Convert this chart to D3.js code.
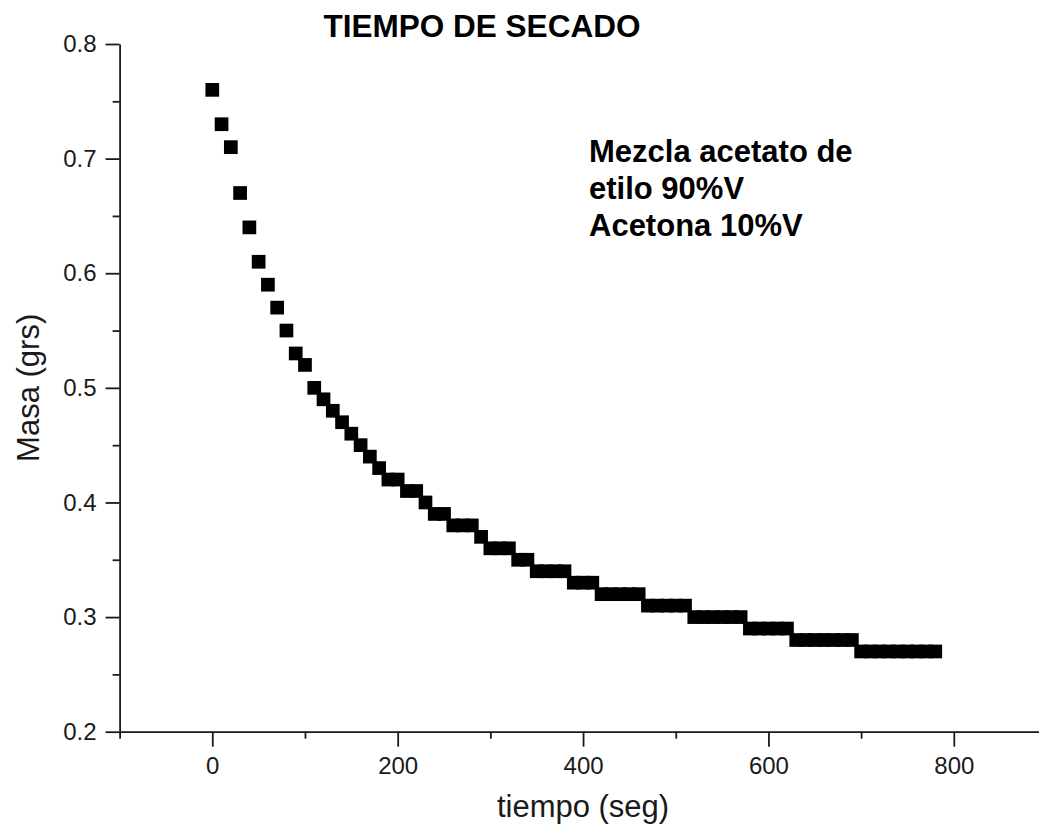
<!DOCTYPE html>
<html>
<head>
<meta charset="utf-8">
<script src="https://cdn.jsdelivr.net/npm/d3@7"></script>
<style>
  body { margin: 0; background: #fff; }
  svg { display: block; }
  text { font-family: "Liberation Sans", Arial, sans-serif; }
</style>
</head>
<body>
<svg id="chart" width="1039" height="831"></svg>
<script>
// Drying run: sample mass (g) against elapsed time (s)
const tiempo = [
  0, 10, 20, 30, 40, 50, 60, 70, 80, 90,
  100, 110, 120, 130, 140, 150, 160, 170, 180, 190,
  200, 210, 220, 230, 240, 250, 260, 270, 280, 290,
  300, 310, 320, 330, 340, 350, 360, 370, 380, 390,
  400, 410, 420, 430, 440, 450, 460, 470, 480, 490,
  500, 510, 520, 530, 540, 550, 560, 570, 580, 590,
  600, 610, 620, 630, 640, 650, 660, 670, 680, 690,
  700, 710, 720, 730, 740, 750, 760, 770, 780
];
const masa = [
  0.76, 0.73, 0.71, 0.67, 0.64, 0.61, 0.59, 0.57, 0.55, 0.53,
  0.52, 0.50, 0.49, 0.48, 0.47, 0.46, 0.45, 0.44, 0.43, 0.42,
  0.42, 0.41, 0.41, 0.40, 0.39, 0.39, 0.38, 0.38, 0.38, 0.37,
  0.36, 0.36, 0.36, 0.35, 0.35, 0.34, 0.34, 0.34, 0.34, 0.33,
  0.33, 0.33, 0.32, 0.32, 0.32, 0.32, 0.32, 0.31, 0.31, 0.31,
  0.31, 0.31, 0.30, 0.30, 0.30, 0.30, 0.30, 0.30, 0.29, 0.29,
  0.29, 0.29, 0.29, 0.28, 0.28, 0.28, 0.28, 0.28, 0.28, 0.28,
  0.27, 0.27, 0.27, 0.27, 0.27, 0.27, 0.27, 0.27, 0.27
];

const xTicksMajor = [0, 200, 400, 600, 800];
const xTicksMinor = [-100, 100, 300, 500, 700];
const yTicksMajor = [0.2, 0.3, 0.4, 0.5, 0.6, 0.7, 0.8];
const yTicksMinor = [0.25, 0.35, 0.45, 0.55, 0.65, 0.75];

const titulo = "TIEMPO DE SECADO";
const nota = ["Mezcla acetato de", "etilo 90%V", "Acetona 10%V"];
const etiquetaX = "tiempo (seg)";
const etiquetaY = "Masa (grs)";

const svg = d3.select("#chart");

const x = d3.scaleLinear().domain([-100, 900]).range([119.6, 1046.5]);
const y = d3.scaleLinear().domain([0.2, 0.8]).range([731.7, 44]);

const axisColor = "#1a1a1a";

// x axis: major ticks with labels, then unlabeled minor ticks
const gx = svg.append("g").attr("transform", `translate(0,${y(0.2)})`);
gx.call(d3.axisBottom(x).tickValues(xTicksMajor).tickSize(15).tickSizeOuter(0)
  .tickPadding(10).tickFormat(d3.format("d")));
const gxm = svg.append("g").attr("transform", `translate(0,${y(0.2)})`);
gxm.call(d3.axisBottom(x).tickValues(xTicksMinor).tickSize(7).tickFormat(""));
gxm.select(".domain").remove();

// y axis
const gy = svg.append("g").attr("transform", `translate(${x(-100)},0)`);
gy.call(d3.axisLeft(y).tickValues(yTicksMajor).tickSize(14).tickSizeOuter(0)
  .tickPadding(9).tickFormat(d3.format(".1f")));
const gym = svg.append("g").attr("transform", `translate(${x(-100)},0)`);
gym.call(d3.axisLeft(y).tickValues(yTicksMinor).tickSize(7).tickFormat(""));
gym.select(".domain").remove();

svg.selectAll(".domain, .tick line")
  .attr("stroke", axisColor).attr("stroke-width", 1.8);
svg.selectAll(".tick text")
  .attr("fill", "#1a1a1a").style("font-size", "24px")
  .style("font-family", "'Liberation Sans', Arial, sans-serif");

// data markers: filled squares
const lado = 13.7;
svg.append("g").selectAll("rect")
  .data(tiempo.map((t, i) => ({ t, m: masa[i] })))
  .join("rect")
  .attr("x", d => x(d.t) - lado / 2)
  .attr("y", d => y(d.m) - lado / 2)
  .attr("width", lado)
  .attr("height", lado)
  .attr("fill", "#000");

// title
svg.append("text")
  .attr("x", 482).attr("y", 37)
  .attr("text-anchor", "middle")
  .style("font-size", "31.5px").style("font-weight", "bold")
  .attr("fill", "#000")
  .text(titulo);

// composition note
svg.append("g").selectAll("text")
  .data(nota)
  .join("text")
  .attr("x", 589)
  .attr("y", (d, i) => 162 + i * 37.2)
  .style("font-size", "31px").style("font-weight", "bold")
  .attr("fill", "#000")
  .text(d => d);

// axis titles
svg.append("text")
  .attr("x", (x(-100) + x(900)) / 2).attr("y", 817)
  .attr("text-anchor", "middle")
  .style("font-size", "31px")
  .attr("fill", "#1a1a1a")
  .text(etiquetaX);

svg.append("text")
  .attr("transform", `translate(39,${(y(0.2) + y(0.8)) / 2}) rotate(-90)`)
  .attr("text-anchor", "middle")
  .style("font-size", "31px")
  .attr("fill", "#1a1a1a")
  .text(etiquetaY);
</script>
</body>
</html>
